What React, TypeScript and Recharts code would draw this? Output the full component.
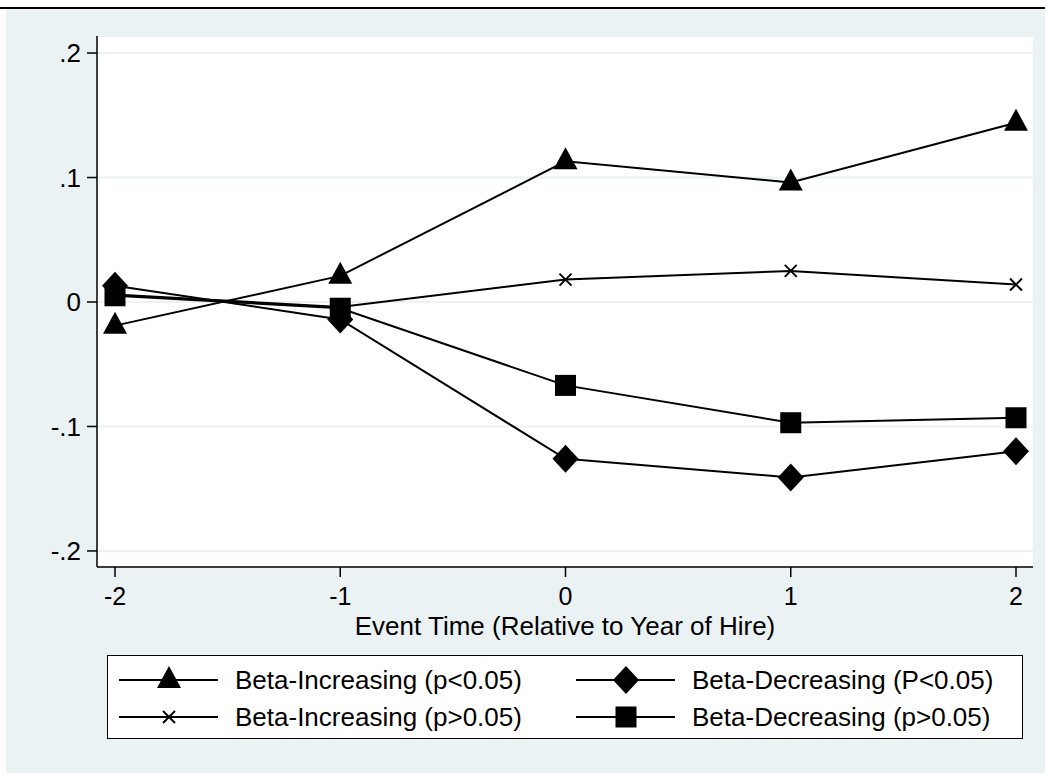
import { CartesianGrid, Legend, Line, LineChart, XAxis, YAxis } from 'recharts'

const eventTimes = [-2, -1, 0, 1, 2]
const incSig = [-0.019, 0.021, 0.113, 0.096, 0.144]
const incNonSig = [0.006, -0.004, 0.018, 0.025, 0.014]
const decSig = [0.013, -0.014, -0.126, -0.141, -0.12]
const decNonSig = [0.005, -0.005, -0.067, -0.097, -0.093]
const yTicks = [-0.2, -0.1, 0, 0.1, 0.2]
const xTicks = [-2, -1, 0, 1, 2]

const seriesLabels = {
  incSig: 'Beta-Increasing (p<0.05)',
  decSig: 'Beta-Decreasing (P<0.05)',
  incNonSig: 'Beta-Increasing (p>0.05)',
  decNonSig: 'Beta-Decreasing (p>0.05)',
}

const data = eventTimes.map((t, i) => ({
  t,
  incSig: incSig[i],
  incNonSig: incNonSig[i],
  decSig: decSig[i],
  decNonSig: decNonSig[i],
}))

const FONT = '"Liberation Sans", Arial, sans-serif'
const BG = '#eaf2f3'
const FS = 26

type Shape = 'triangle' | 'diamond' | 'square' | 'x'

function marker(shape: Shape, cx: number, cy: number, key?: string | number) {
  switch (shape) {
    case 'triangle':
      return (
        <polygon key={key} points={`${cx},${cy - 14} ${cx - 12},${cy + 8} ${cx + 12},${cy + 8}`} fill="#000" />
      )
    case 'diamond':
      return (
        <polygon key={key} points={`${cx},${cy - 14} ${cx + 13},${cy} ${cx},${cy + 14} ${cx - 13},${cy}`} fill="#000" />
      )
    case 'square':
      return <rect key={key} x={cx - 10.5} y={cy - 10.5} width={21} height={21} fill="#000" />
    default:
      return (
        <g key={key} stroke="#000" strokeWidth={2}>
          <line x1={cx - 6} y1={cy - 6} x2={cx + 6} y2={cy + 6} />
          <line x1={cx - 6} y1={cy + 6} x2={cx + 6} y2={cy - 6} />
        </g>
      )
  }
}

const dotFor = (shape: Shape) => (props: any) => marker(shape, props.cx, props.cy, `${shape}-${props.index}`)

const fmtY = (v: number) => (v === 0 ? '0' : (v < 0 ? '-' : '') + String(Math.abs(v)).replace(/^0/, ''))

const legendItems: { label: string; shape: Shape; col: number; row: number }[] = [
  { label: seriesLabels.incSig, shape: 'triangle', col: 0, row: 0 },
  { label: seriesLabels.decSig, shape: 'diamond', col: 1, row: 0 },
  { label: seriesLabels.incNonSig, shape: 'x', col: 0, row: 1 },
  { label: seriesLabels.decNonSig, shape: 'square', col: 1, row: 1 },
]

function LegendBox() {
  return (
    <svg width={916} height={84} style={{ display: 'block', background: '#fff', border: '1px solid #000', boxSizing: 'border-box' }}>
      {legendItems.map((it) => {
        const x0 = it.col === 0 ? 11 : 468
        const y = it.row === 0 ? 24 : 61
        return (
          <g key={it.label}>
            <line x1={x0} y1={y} x2={x0 + 99} y2={y} stroke="#000" strokeWidth={2} />
            {marker(it.shape, x0 + 50, y)}
            <text x={x0 + 116} y={y} dy="0.35em" fontSize={FS} fontFamily={FONT} fill="#000">
              {it.label}
            </text>
          </g>
        )
      })}
    </svg>
  )
}

export default function App() {
  return (
    <div style={{ position: 'absolute', left: 0, top: 0, width: 1045, height: 773, background: '#fff', overflow: 'hidden' }}>
      <div style={{ position: 'absolute', left: 0, top: 7, width: 1045, height: 2, background: '#000' }} />
      <div style={{ position: 'absolute', left: 6, top: 9, right: 0, bottom: 0, background: BG }} />
      <div style={{ position: 'absolute', left: 0, top: 0 }}>
        <LineChart
          width={1045}
          height={773}
          data={data}
          margin={{ top: 36, right: 12, bottom: 166, left: 37 }}
          style={{ fontFamily: FONT }}
        >
          <CartesianGrid horizontal vertical={false} stroke={BG} strokeWidth={2} fill="#fff" />
          <XAxis
            dataKey="t"
            type="number"
            domain={[-2, 2]}
            ticks={xTicks}
            padding={{ left: 18, right: 17 }}
            height={40}
            tickSize={10}
            tickMargin={10}
            axisLine={{ stroke: '#000', strokeWidth: 1.5 }}
            tickLine={{ stroke: '#000', strokeWidth: 1.5 }}
            tick={{ fontSize: 25, fill: '#000', fontFamily: FONT }}
            label={{
              value: 'Event Time (Relative to Year of Hire)',
              position: 'bottom',
              offset: 10,
              style: { fontSize: FS, fill: '#000', fontFamily: FONT },
            }}
          />
          <YAxis
            type="number"
            domain={[-0.2129, 0.2137]}
            allowDataOverflow
            ticks={yTicks}
            tickFormatter={fmtY}
            width={60}
            tickSize={10}
            tickMargin={6}
            axisLine={{ stroke: '#000', strokeWidth: 1.5 }}
            tickLine={{ stroke: '#000', strokeWidth: 1.5 }}
            tick={{ fontSize: FS, fill: '#000', fontFamily: FONT }}
          />
          <Legend
            layout="vertical"
            align="center"
            verticalAlign="middle"
            content={() => <LegendBox />}
            wrapperStyle={{ position: 'absolute', left: 107, top: 655, width: 916, height: 84 }}
          />
          <Line dataKey="incSig" name={seriesLabels.incSig} stroke="#000" strokeWidth={2} dot={dotFor('triangle')} isAnimationActive={false} />
          <Line dataKey="incNonSig" name={seriesLabels.incNonSig} stroke="#000" strokeWidth={2} dot={dotFor('x')} isAnimationActive={false} />
          <Line dataKey="decSig" name={seriesLabels.decSig} stroke="#000" strokeWidth={2} dot={dotFor('diamond')} isAnimationActive={false} />
          <Line dataKey="decNonSig" name={seriesLabels.decNonSig} stroke="#000" strokeWidth={2} dot={dotFor('square')} isAnimationActive={false} />
        </LineChart>
      </div>
    </div>
  )
}
